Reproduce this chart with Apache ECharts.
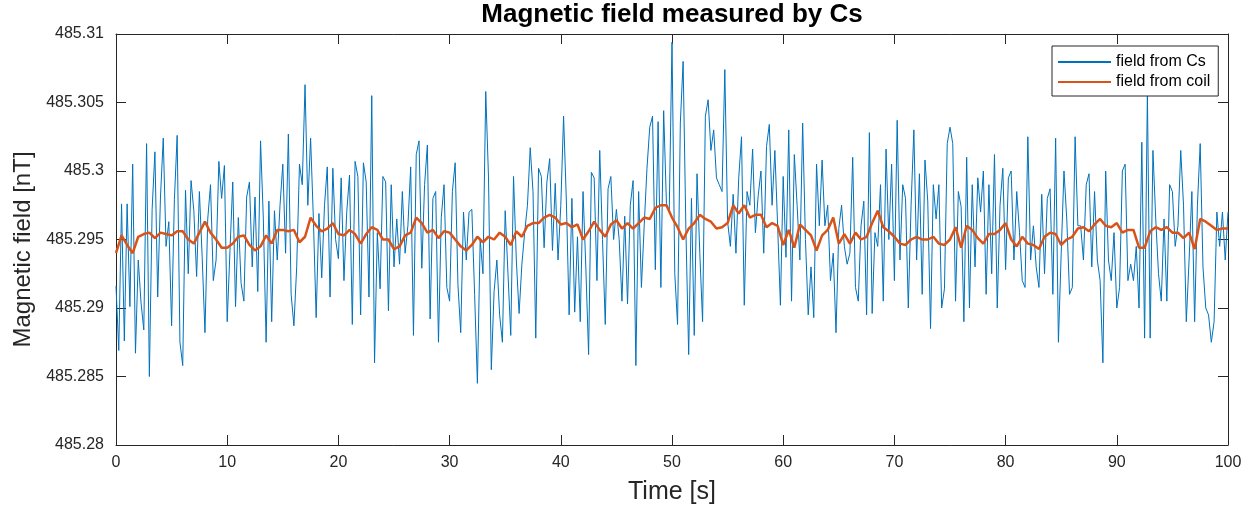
<!DOCTYPE html>
<html>
<head>
<meta charset="utf-8">
<script src="https://cdn.jsdelivr.net/npm/echarts@6/dist/echarts.min.js"></script>
<style>
html,body{margin:0;padding:0;background:#fff;}
#chart{width:1260px;height:516px;}
</style>
</head>
<body>
<div id="chart"></div>
<script>
// ---- data ----
const titleText = 'Magnetic field measured by Cs';
const xName = 'Time [s]';
const yName = 'Magnetic field [nT]';
const seriesNames = ['field from Cs', 'field from coil'];
const xTicks = [0, 10, 20, 30, 40, 50, 60, 70, 80, 90, 100];
const yTicks = [485.28, 485.285, 485.29, 485.295, 485.3, 485.305, 485.31];
const csStep = 0.25;   // s between Cs samples
const coilStep = 0.5;  // s between coil samples

const csField = [
485.2916,485.2869,485.2976,485.2876,485.2976,485.2901,485.3005,485.2867,485.2935,485.2904,485.2884,485.3020,485.2850,485.2972,485.3014,485.2908,485.2981,485.3024,485.2945,485.2963,485.2887,485.2979,485.3026,485.2875,485.2858,485.2986,485.2925,485.2993,485.2971,485.2923,485.2985,485.2937,485.2882,485.2965,485.2990,485.2920,
485.2935,485.3007,485.2980,485.3004,485.2890,485.2942,485.2992,485.2901,485.2966,485.2918,485.2905,485.2981,485.2992,485.2930,485.2981,485.2912,485.3022,485.2965,485.2875,485.2978,485.2890,485.2971,485.2935,485.2975,485.3005,485.2940,485.3027,485.2910,485.2887,485.2930,485.3005,485.2990,485.3063,485.2975,485.3024,485.2965,
485.2893,485.2969,485.2922,485.2975,485.3003,485.2908,485.3002,485.2950,485.2936,485.2995,485.2920,485.2970,485.2997,485.2888,485.3007,485.2996,485.2895,485.3006,485.2992,485.2908,485.3055,485.2860,485.2955,485.2914,485.2996,485.2992,485.2898,485.2990,485.2930,485.2965,485.2932,485.2985,485.2940,485.2960,485.3003,485.2880,
485.3012,485.3022,485.2929,485.2990,485.3019,485.2892,485.2980,485.2985,485.2875,485.2966,485.2990,485.2915,485.2905,485.2985,485.3006,485.2917,485.2882,485.2970,485.2935,485.2970,485.2972,485.2910,485.2845,485.2950,485.2925,485.3058,485.2995,485.2855,485.2912,485.2935,485.2895,485.2875,485.2971,485.2925,485.2880,485.2996,
485.2935,485.2896,485.2932,485.2955,485.2975,485.3017,485.2985,485.2878,485.3002,485.2996,485.2944,485.2992,485.3009,485.2942,485.2991,485.2935,485.2975,485.3040,485.2978,485.2895,485.2980,485.2897,485.2952,485.2890,485.2985,485.2930,485.2866,485.2999,485.2995,485.2920,485.3015,485.2950,485.2888,485.2987,485.2996,485.2950,
485.2972,485.2950,485.2905,485.2967,485.2903,485.2975,485.2993,485.2858,485.2985,485.2915,485.2960,485.3002,485.3032,485.3040,485.2928,485.3036,485.2915,485.3044,485.2976,485.2970,485.3094,485.2925,485.2888,485.3035,485.3080,485.2957,485.2866,485.2980,485.2880,485.2998,485.2940,485.2890,485.3040,485.3052,485.3015,485.3030,
485.2995,485.2990,485.2985,485.3074,485.2963,485.2945,485.2983,485.2940,485.2995,485.3025,485.2902,485.2985,485.2975,485.3016,485.2955,485.2982,485.3000,485.2940,485.3018,485.3034,485.2975,485.3015,485.2960,485.2902,485.2996,485.2937,485.3030,485.2905,485.3012,485.2975,485.2935,485.3035,485.2950,485.2895,485.2930,485.2893,485.3005,
485.2960,485.3008,485.2960,485.2975,485.2920,485.2940,485.2882,485.2958,485.2975,485.2945,485.2932,485.2940,485.3010,485.2915,485.2905,485.2960,485.2978,485.2895,485.3028,485.2896,485.2955,485.2945,485.2990,485.2905,485.3016,485.2950,485.3005,485.2920,485.3037,485.2935,485.2990,485.2980,485.2900,485.2975,485.3030,485.2935,485.2998,485.2910,
485.3008,485.2978,485.2885,485.2990,485.2965,485.2990,485.2900,485.2914,485.3020,485.3032,485.3020,485.2905,485.2985,485.2974,485.2890,485.3010,485.2900,485.2990,485.2930,485.2995,485.2970,485.3000,485.2910,485.2990,485.2925,485.3012,485.2900,485.2975,485.3002,485.2928,485.2995,485.3000,485.2935,485.2985,485.2955,485.2920,
485.2915,485.3025,485.2935,485.2960,485.2930,485.2915,485.2983,485.2925,485.2980,485.2987,485.2910,485.3024,485.2875,485.2940,485.3000,485.2965,485.2910,485.2915,485.3025,485.2960,485.2960,485.2935,485.2990,485.2998,485.2930,485.2985,485.2935,485.2920,485.2860,485.3000,485.2935,485.2920,485.2955,485.2900,485.2915,485.3000,
485.3005,485.2920,485.2932,485.2920,485.2945,485.2900,485.3021,485.2878,485.3057,485.2878,485.3015,485.2965,485.2925,485.2905,485.2965,485.2905,485.2990,485.2985,485.2945,485.2960,485.3015,485.2975,485.2890,485.2935,485.2985,485.2890,485.2975,485.3020,485.2930,485.2900,485.2895,485.2875,485.2890,485.2970,485.2945,485.2970,485.2935,485.2970
];

const coilField = [
485.2940,485.2953,485.2946,485.2940,485.2952,485.2954,485.2955,485.2951,485.2955,485.2954,485.2953,485.2956,485.2956,485.2950,485.2947,485.2955,485.2963,485.2955,
485.2950,485.2944,485.2944,485.2947,485.2952,485.2953,485.2946,485.2942,485.2945,485.2953,485.2947,485.2957,485.2957,485.2956,485.2957,485.2948,485.2952,485.2966,485.2960,
485.2956,485.2958,485.2962,485.2954,485.2953,485.2957,485.2954,485.2947,485.2954,485.2959,485.2957,485.2950,485.2950,485.2943,485.2945,485.2953,485.2955,485.2966,
485.2962,485.2955,485.2957,485.2951,485.2956,485.2955,485.2950,485.2945,485.2942,485.2946,485.2952,485.2948,485.2952,485.2950,485.2955,485.2952,485.2946,485.2956,
485.2952,485.2960,485.2962,485.2962,485.2966,485.2968,485.2966,485.2961,485.2962,485.2959,485.2961,485.2950,485.2956,485.2963,485.2957,485.2952,485.2961,485.2964,
485.2958,485.2962,485.2958,485.2962,485.2966,485.2965,485.2973,485.2975,485.2975,485.2966,485.2959,485.2950,485.2958,485.2962,485.2968,485.2965,485.2963,485.2958,
485.2959,485.2962,485.2975,485.2969,485.2975,485.2966,485.2968,485.2968,485.2959,485.2962,485.2960,485.2946,485.2957,485.2944,485.2961,485.2957,485.2953,485.2942,
485.2953,485.2957,485.2966,485.2947,485.2954,485.2947,485.2955,485.2950,485.2952,485.2962,485.2971,485.2959,485.2956,485.2952,485.2947,485.2946,485.2950,485.2952,485.2950,
485.2950,485.2952,485.2947,485.2946,485.2950,485.2959,485.2944,485.2960,485.2957,485.2951,485.2947,485.2954,485.2954,485.2957,485.2962,485.2950,485.2945,485.2952,
485.2947,485.2946,485.2943,485.2952,485.2955,485.2954,485.2946,485.2950,485.2952,485.2958,485.2959,485.2956,485.2961,485.2965,485.2960,485.2959,485.2962,485.2955,
485.2957,485.2957,485.2944,485.2944,485.2956,485.2959,485.2957,485.2959,485.2955,485.2955,485.2951,485.2955,485.2943,485.2965,485.2963,485.2960,485.2957,485.2958,485.2958
];

// ---- chart ----
const FONT = '"Liberation Sans", Arial, Helvetica, sans-serif';
const AX = '#262626';
const chart = echarts.init(document.getElementById('chart'), null, {renderer: 'canvas'});
const xMin = xTicks[0], xMax = xTicks[xTicks.length - 1];
const yMin = yTicks[0], yMax = yTicks[yTicks.length - 1];
const xInt = xTicks[1] - xTicks[0];
const yInt = 0.005;
const fmtY = v => String(+(+v).toFixed(3));

const tickCfg = {show: true, inside: true, length: 10, lineStyle: {color: AX, width: 1}};
const lineCfg = {show: true, onZero: false, lineStyle: {color: AX, width: 1}};

chart.setOption({
  animation: false,
  backgroundColor: '#ffffff',
  title: {
    text: titleText,
    left: 672, top: 2, textAlign: 'center', padding: 0,
    textStyle: {fontFamily: FONT, fontSize: 26, fontWeight: 'bold', color: '#000'}
  },
  legend: {
    data: seriesNames,
    orient: 'vertical',
    left: 1052, top: 46,
    padding: [8, 8, 6, 5],
    itemGap: 4,
    itemWidth: 53, itemHeight: 14,
    itemStyle: {opacity: 0, borderWidth: 0},
    backgroundColor: '#ffffff',
    borderColor: AX, borderWidth: 1,
    textStyle: {fontFamily: FONT, fontSize: 16, color: '#000', lineHeight: 16}
  },
  grid: {left: 116, right: 32, top: 34, bottom: 71, containLabel: false},
  xAxis: [{
    type: 'value', min: xMin, max: xMax, interval: xInt,
    name: xName, nameLocation: 'middle', nameGap: 35,
    nameTextStyle: {fontFamily: FONT, fontSize: 25, color: AX},
    axisLine: lineCfg, axisTick: tickCfg, splitLine: {show: false},
    axisLabel: {fontFamily: FONT, fontSize: 16, color: AX, margin: 10}
  }, {
    type: 'value', position: 'top', min: xMin, max: xMax, interval: xInt,
    axisLine: lineCfg, axisTick: tickCfg, splitLine: {show: false},
    axisLabel: {show: false}
  }],
  yAxis: [{
    type: 'value', min: yMin, max: yMax, interval: yInt,
    name: yName, nameLocation: 'middle', nameGap: 80,
    nameTextStyle: {fontFamily: FONT, fontSize: 24, color: AX, padding: [0, 20, 0, 0]},
    axisLine: lineCfg, axisTick: tickCfg, splitLine: {show: false},
    axisLabel: {fontFamily: FONT, fontSize: 16, color: AX, margin: 12, formatter: fmtY}
  }, {
    type: 'value', position: 'right', min: yMin, max: yMax, interval: yInt,
    axisLine: lineCfg, axisTick: tickCfg, splitLine: {show: false},
    axisLabel: {show: false}
  }],
  series: [{
    name: seriesNames[0], type: 'line', xAxisIndex: 0, yAxisIndex: 0,
    data: csField.map((v, i) => [i * csStep, v]),
    showSymbol: false, symbol: 'none',
    lineStyle: {color: '#0072BD', width: 1},
    itemStyle: {color: '#0072BD'}
  }, {
    name: seriesNames[1], type: 'line', xAxisIndex: 0, yAxisIndex: 0,
    data: coilField.map((v, i) => [i * coilStep, v]),
    showSymbol: false, symbol: 'none',
    lineStyle: {color: '#D95319', width: 2.5},
    itemStyle: {color: '#D95319'}
  }]
});
</script>
</body>
</html>
